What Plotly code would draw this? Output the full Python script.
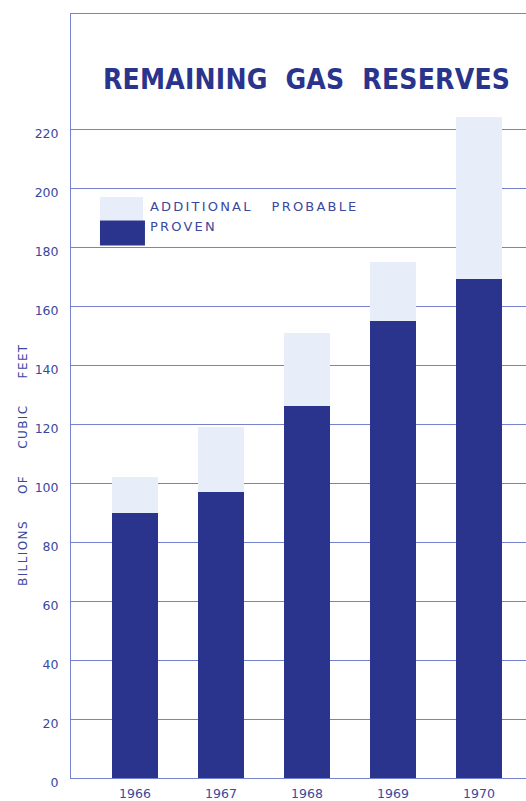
import plotly.graph_objects as go

# Remaining gas reserves, billions of cubic feet
years = ["1966", "1967", "1968", "1969", "1970"]
proven = [90, 97, 126, 155, 169]
additional_probable = [12, 22, 25, 20, 55]
y_ticks = [0, 20, 40, 60, 80, 100, 120, 140, 160, 180, 200, 220]

INK = "rgb(58,72,160)"
DARK = "rgb(42,52,140)"
LIGHT = "rgb(231,237,249)"
GRID = "rgb(118,130,204)"

fig = go.Figure()
fig.add_trace(go.Bar(x=years, y=proven, name="PROVEN",
                     marker=dict(color=DARK, line=dict(width=0)), width=0.535))
fig.add_trace(go.Bar(x=years, y=additional_probable, name="ADDITIONAL PROBABLE",
                     marker=dict(color=LIGHT, line=dict(width=0)), width=0.535))

tick_font = dict(family="DejaVu Sans, sans-serif", size=12.5, color=INK)

fig.update_layout(
    width=526, height=801,
    margin=dict(l=71, r=0, t=14, b=23),
    barmode="stack",
    showlegend=False,
    plot_bgcolor="white",
    paper_bgcolor="white",
    xaxis=dict(
        type="category", range=[-0.744, 4.547], automargin=False,
        showline=True, linecolor=GRID, linewidth=1, mirror=True,
        showgrid=False, ticks="", tickfont=tick_font, ticklabelstandoff=4,
    ),
    yaxis=dict(
        range=[0, 259], tickvals=y_ticks, ticktext=[str(v) for v in y_ticks],
        automargin=False,
        showline=True, linecolor=GRID, linewidth=1,
        showgrid=True, gridcolor=GRID, gridwidth=1, zeroline=False,
        ticks="", tickfont=tick_font, ticklabelstandoff=9, ticklabelshift=5,
    ),
)


def spaced(text, px):
    return f"<span style='letter-spacing:{px}px'>{text}</span>"


# Title inside the top panel
fig.add_annotation(
    text="<b>" + spaced("REMAINING  GAS  RESERVES", 0.2) + "</b>",
    xref="paper", yref="paper",
    x=(306 - 71) / 455, y=(778 - 80) / 764, xanchor="center", yanchor="middle",
    showarrow=False,
    font=dict(family="DejaVu Sans Condensed, DejaVu Sans, sans-serif",
              size=28, color=DARK),
)

# Vertical axis caption
fig.add_annotation(
    text=spaced("BILLIONS     OF     CUBIC     FEET", 1.4),
    xref="paper", yref="paper",
    x=(23 - 71) / 455, y=(778 - 465) / 764, textangle=-90,
    xanchor="center", yanchor="middle", showarrow=False,
    font=dict(family="DejaVu Sans, sans-serif", size=12, color=INK),
)

# Legend swatches and labels
fig.add_shape(type="rect", xref="x", yref="y", x0=-0.407, x1=0.093, y0=189, y1=197,
              fillcolor=LIGHT, line=dict(width=0))
fig.add_shape(type="rect", xref="x", yref="y", x0=-0.407, x1=0.116, y0=180.5, y1=189,
              fillcolor=DARK, line=dict(width=0))
legend_font = dict(family="DejaVu Sans, sans-serif", size=13, color=INK)
fig.add_annotation(text=spaced("ADDITIONAL   PROBABLE", 2.2), xref="x", yref="y",
                   x=0.15, y=193.6, xanchor="left", yanchor="middle",
                   showarrow=False, font=legend_font)
fig.add_annotation(text=spaced("PROVEN", 2.2), xref="x", yref="y",
                   x=0.15, y=186.9, xanchor="left", yanchor="middle",
                   showarrow=False, font=legend_font)

fig.write_html("out.html")
